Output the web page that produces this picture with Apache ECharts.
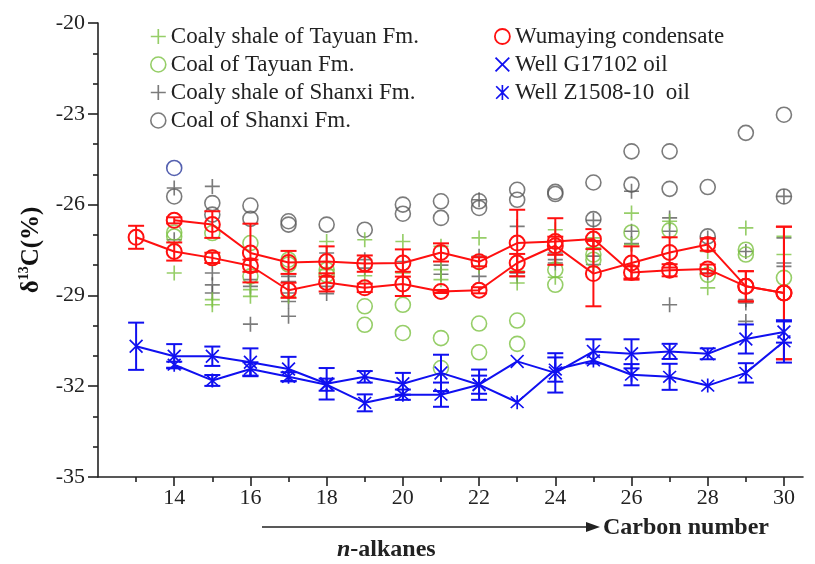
<!DOCTYPE html>
<html><head><meta charset="utf-8">
<script src="https://cdn.jsdelivr.net/npm/echarts@6/dist/echarts.min.js"></script>
<style>html,body{margin:0;padding:0;background:#fff}#c{width:815px;height:564px}</style>
</head><body><div id="c"></div>
<script>
// ---------- data ----------
const xTickLabels = [14,16,18,20,22,24,26,28,30];
const xMinorTicks = [13,15,17,19,21,23,25,27,29];

// [carbon number, δ13C]
const coalyShaleTayuan = [[14,-28.26],[15,-29.14],[15,-29.31],[16,-28.81],[16,-29.03],[17,-29.03],[18,-27.22],[18,-28.15],[19,-27.16],[19,-28.35],[20,-27.22],[20,-28.26],[21,-27.38],[21,-28.15],[21,-28.48],[22,-27.10],[22,-28.04],[23,-28.59],[23,-28.20],[24,-26.83],[24,-28.40],[25,-27.10],[25,-27.43],[26,-26.28],[26,-27.32],[27,-26.55],[28,-27.55],[28,-28.75],[29,-26.77],[30,-27.05],[30,-27.65]];
const coalTayuan = [[14,-26.92],[14,-27.05],[15,-26.94],[15,-27.76],[16,-27.27],[16,-28.37],[17,-27.82],[17,-27.98],[18,-28.15],[18,-28.32],[19,-29.36],[19,-29.97],[20,-29.31],[20,-30.24],[21,-30.41],[21,-31.40],[22,-29.93],[22,-30.88],[23,-29.83],[23,-30.60],[24,-28.15],[24,-28.65],[25,-27.65],[25,-27.82],[26,-26.92],[27,-26.85],[28,-28.32],[29,-27.49],[29,-27.65],[30,-28.42]];
const coalyShaleShanxi = [[14,-25.45],[14,-27.16],[15,-25.40],[15,-28.26],[15,-28.65],[15,-28.92],[16,-28.48],[16,-28.70],[16,-29.95],[17,-28.37],[17,-28.54],[17,-28.92],[17,-29.20],[17,-29.69],[18,-27.60],[18,-28.70],[18,-28.94],[19,-27.82],[19,-28.10],[20,-27.88],[21,-28.00],[21,-28.30],[22,-25.84],[22,-27.71],[22,-28.37],[23,-26.72],[23,-28.26],[23,-28.37],[24,-27.60],[24,-27.82],[24,-27.93],[25,-26.52],[25,-27.70],[25,-27.98],[26,-25.56],[26,-26.88],[26,-27.29],[27,-26.44],[27,-26.88],[27,-29.31],[28,-27.10],[28,-28.26],[29,-27.55],[29,-29.14],[29,-29.25],[29,-29.86],[30,-25.73],[30,-27.10],[30,-27.93],[30,-28.04]];
const coalShanxi = [[14,-25.73],[15,-25.95],[15,-26.33],[16,-26.03],[16,-26.47],[17,-26.55],[17,-26.66],[18,-26.66],[19,-26.83],[20,-26.00],[20,-26.30],[21,-25.89],[21,-26.44],[22,-25.89],[22,-26.11],[23,-25.51],[23,-25.84],[24,-25.58],[24,-25.65],[25,-25.27],[25,-26.48],[26,-24.24],[26,-25.34],[27,-24.24],[27,-25.48],[28,-25.42],[28,-27.05],[29,-23.63],[30,-23.03],[30,-25.73]];
const outlierCircle = [[14,-24.79]];

// Wumaying condensate, two sample profiles: carbons, values, errors
const wumayingACarbons = [14,15,16,17,18,19,20,21,22,23,24,25,26,27,28,29,30];
const wumayingAValues = [-26.52,-26.66,-27.60,-27.91,-27.88,-27.95,-27.93,-27.58,-27.89,-27.27,-27.22,-27.14,-28.24,-28.17,-28.13,-28.70,-28.92];
const wumayingAErrors = [0.10,0.44,0.97,0.38,0.50,0.27,0.45,0.30,0.15,1.10,0.77,0.33,0.20,0.20,0.15,0.50,2.19];
const wumayingBCarbons = [13,14,15,16,17,18,19,20,21,22,23,24,25,26,27,28,29,30];
const wumayingBValues = [-27.08,-27.55,-27.76,-28.02,-28.83,-28.57,-28.75,-28.62,-28.87,-28.83,-27.93,-27.36,-28.28,-27.93,-27.58,-27.32,-28.70,-28.92];
const wumayingBErrors = [0.38,0.30,0.17,0.20,0.25,0.30,0.14,0.40,0.05,0.10,0.30,0.30,1.08,0.55,0.50,0.20,0.50,2.19];

const g17102Carbons = [13,14,15,16,17,18,19,20,21,22,23,24,25,26,27,28,29,30];
const g17102Values = [-30.68,-31.01,-31.01,-31.21,-31.43,-31.92,-31.69,-31.92,-31.56,-31.95,-31.18,-31.56,-30.85,-30.93,-30.85,-30.93,-30.44,-30.21];
const g17102Errors = [0.78,0.40,0.32,0.46,0.40,0.52,0.19,0.36,0.60,0.50,0,0.65,0.40,0.48,0.25,0.18,0.48,0.35];

const z1508Carbons = [14,15,16,17,18,19,20,21,22,23,24,25,26,27,28,29,30];
const z1508Values = [-31.29,-31.81,-31.43,-31.69,-31.95,-32.55,-32.28,-32.28,-31.95,-32.53,-31.45,-31.15,-31.62,-31.69,-31.98,-31.56,-30.52];
const z1508Errors = [0.10,0.18,0.22,0.15,0.20,0.28,0.17,0.40,0.30,0,0.40,0,0.35,0.43,0,0.32,0.70];

// ---------- styles ----------
const GREEN = '#7cc242', GREY = '#5a5a5a', RED = '#ff1010', BLUE = '#1010f0', NAVY = '#2b3a9c';
const FONT = 'Liberation Serif';
const PLUS = 'path://M0,4.45H10V5.55H0Z M4.45,0H5.55V10H4.45Z';
const CROSS = 'path://M0.85,0L5,4.15L9.15,0L10,0.85L5.85,5L10,9.15L9.15,10L5,5.85L0.85,10L0,9.15L4.15,5L0,0.85Z';
const ASTER = 'path://M0.85,0L5,4.15L9.15,0L10,0.85L5.85,5L10,9.15L9.15,10L5,5.85L0.85,10L0,9.15L4.15,5L0,0.85Z M4.4,-0.5H5.6V10.5H4.4Z';

function zip(c, v){ return c.map((x,i)=>[x, v[i]]); }
function zip3(c, v, e){ return c.map((x,i)=>[x, v[i], e[i]]); }

function errSeries(data, color){
  return {
    type: 'custom', silent: true, z: 3,
    data: data,
    renderItem: function(params, api){
      const x = api.value(0), y = api.value(1), e = api.value(2);
      if (!e) return null;
      const top = api.coord([x, y + e]);
      const bot = api.coord([x, y - e]);
      const w = 8;
      const st = {stroke: color, lineWidth: 2, fill: null};
      return {type: 'group', children: [
        {type: 'line', shape: {x1: top[0], y1: top[1], x2: bot[0], y2: bot[1]}, style: st},
        {type: 'line', shape: {x1: top[0]-w, y1: top[1], x2: top[0]+w, y2: top[1]}, style: st},
        {type: 'line', shape: {x1: bot[0]-w, y1: bot[1], x2: bot[0]+w, y2: bot[1]}, style: st}
      ]};
    }
  };
}

const chart = echarts.init(document.getElementById('c'), null, {renderer: 'canvas'});
const legendText = {fontFamily: FONT, fontSize: 23, color: '#222', lineHeight: 22};
const option = {
  backgroundColor: '#fff',
  animation: false,
  grid: {left: 98, right: 12, top: 23, bottom: 87, containLabel: false},
  xAxis: [{
    type: 'value', min: 12, max: 30.5,
    axisLine: {show: true, lineStyle: {color: '#222', width: 1.6}},
    axisTick: {show: true, inside: false, length: 9, lineStyle: {color: '#222', width: 1.6}, customValues: xTickLabels},
    axisLabel: {show: true, margin: 10, fontFamily: FONT, fontSize: 22, color: '#222', customValues: xTickLabels},
    splitLine: {show: false}, minorTick: {show: false}
  },{
    type: 'value', min: 12, max: 30.5, position: 'bottom',
    axisLine: {show: false},
    axisTick: {show: true, length: 5, lineStyle: {color: '#222', width: 1.6}, customValues: xMinorTicks},
    axisLabel: {show: false}, splitLine: {show: false}
  }],
  yAxis: {
    type: 'value', min: -35, max: -20, interval: 3,
    axisLine: {show: true, lineStyle: {color: '#222', width: 1.6}},
    axisTick: {show: true, length: 10, lineStyle: {color: '#222', width: 1.6}},
    minorTick: {show: true, splitNumber: 3, length: 5, lineStyle: {color: '#222', width: 1.6}},
    axisLabel: {margin: 13, fontFamily: FONT, fontSize: 22, color: '#222'},
    splitLine: {show: false},
    name: '{b|δ}{s|13}{b|C(%)}', nameLocation: 'middle', nameRotate: 90, nameGap: 51,
    nameTextStyle: {rich: {
      b: {fontFamily: FONT, fontWeight: 'bold', fontSize: 25, color: '#111', lineHeight: 30},
      s: {fontFamily: FONT, fontWeight: 'bold', fontSize: 14, color: '#111', lineHeight: 15, verticalAlign: 'top'}
    }}
  },
  legend: [{
    orient: 'vertical', left: 145, top: 20, itemGap: 5, itemWidth: 15, itemHeight: 15,
    textStyle: legendText, selectedMode: false,
    data: [
      {name: 'Coaly shale of Tayuan Fm.', icon: PLUS, itemStyle: {color: GREEN, borderWidth: 0}},
      {name: 'Coal of Tayuan Fm.', icon: 'circle', itemStyle: {color: 'transparent', borderColor: GREEN, borderWidth: 1.6}},
      {name: 'Coaly shale of Shanxi Fm.', icon: PLUS, itemStyle: {color: GREY, borderWidth: 0}},
      {name: 'Coal of Shanxi Fm.', icon: 'circle', itemStyle: {color: 'transparent', borderColor: GREY, borderWidth: 1.6}}
    ]
  },{
    orient: 'vertical', left: 489, top: 20, itemGap: 5, itemWidth: 15, itemHeight: 15,
    textStyle: legendText, selectedMode: false,
    data: [
      {name: 'Wumaying condensate', icon: 'circle', itemStyle: {color: 'transparent', borderColor: RED, borderWidth: 1.8}},
      {name: 'Well G17102 oil', icon: CROSS, itemStyle: {color: BLUE, borderWidth: 0}},
      {name: 'Well Z1508-10  oil', icon: ASTER, itemStyle: {color: BLUE, borderWidth: 0}}
    ]
  }],
  graphic: [
    {type: 'line', shape: {x1: 262, y1: 527, x2: 590, y2: 527}, style: {stroke: '#222', lineWidth: 1.6}},
    {type: 'polygon', shape: {points: [[586,522],[600,527],[586,532]]}, style: {fill: '#222'}},
    {type: 'text', left: 603, top: 516, style: {text: 'Carbon number', fontFamily: FONT, fontWeight: 'bold', fontSize: 24, fill: '#222'}},
    {type: 'text', left: 337, top: 538, style: {
      text: '{i|n}{b|-alkanes}',
      rich: {
        i: {fontFamily: FONT, fontWeight: 'bold', fontStyle: 'italic', fontSize: 24, fill: '#222'},
        b: {fontFamily: FONT, fontWeight: 'bold', fontSize: 24, fill: '#222'}
      }
    }}
  ],
  series: [
    {name: 'Coal of Shanxi Fm.', type: 'scatter', data: coalShanxi, symbol: 'circle', symbolSize: 15,
      itemStyle: {color: 'transparent', borderColor: GREY, borderWidth: 1.6}, z: 2},
    {name: 'Coaly shale of Shanxi Fm.', type: 'scatter', data: coalyShaleShanxi, symbol: PLUS, symbolSize: 15,
      itemStyle: {color: GREY}, z: 2},
    {name: 'Coal of Tayuan Fm.', type: 'scatter', data: coalTayuan, symbol: 'circle', symbolSize: 15,
      itemStyle: {color: 'transparent', borderColor: GREEN, borderWidth: 1.6}, z: 2},
    {name: 'Coaly shale of Tayuan Fm.', type: 'scatter', data: coalyShaleTayuan, symbol: PLUS, symbolSize: 15,
      itemStyle: {color: GREEN}, z: 2},
    {name: 'outlier', type: 'scatter', data: outlierCircle, symbol: 'circle', symbolSize: 15,
      itemStyle: {color: 'transparent', borderColor: NAVY, borderWidth: 1.6}, z: 2},
    errSeries(zip3(wumayingACarbons, wumayingAValues, wumayingAErrors), RED),
    errSeries(zip3(wumayingBCarbons, wumayingBValues, wumayingBErrors), RED),
    {name: 'Wumaying condensate', type: 'line', data: zip(wumayingACarbons, wumayingAValues), symbol: 'circle', symbolSize: 15,
      showAllSymbol: true, lineStyle: {color: RED, width: 2}, itemStyle: {color: 'transparent', borderColor: RED, borderWidth: 2}, z: 4},
    {name: 'Wumaying condensate', type: 'line', data: zip(wumayingBCarbons, wumayingBValues), symbol: 'circle', symbolSize: 15,
      showAllSymbol: true, lineStyle: {color: RED, width: 2}, itemStyle: {color: 'transparent', borderColor: RED, borderWidth: 2}, z: 4},
    errSeries(zip3(g17102Carbons, g17102Values, g17102Errors), BLUE),
    errSeries(zip3(z1508Carbons, z1508Values, z1508Errors), BLUE),
    {name: 'Well G17102 oil', type: 'line', data: zip(g17102Carbons, g17102Values), symbol: CROSS, symbolSize: 14,
      showAllSymbol: true, lineStyle: {color: BLUE, width: 2}, itemStyle: {color: BLUE, borderWidth: 0}, z: 4},
    {name: 'Well Z1508-10  oil', type: 'line', data: zip(z1508Carbons, z1508Values), symbol: ASTER, symbolSize: 14,
      showAllSymbol: true, lineStyle: {color: BLUE, width: 2}, itemStyle: {color: BLUE, borderWidth: 0}, z: 4}
  ]
};
chart.setOption(option);
</script>
</body></html>
